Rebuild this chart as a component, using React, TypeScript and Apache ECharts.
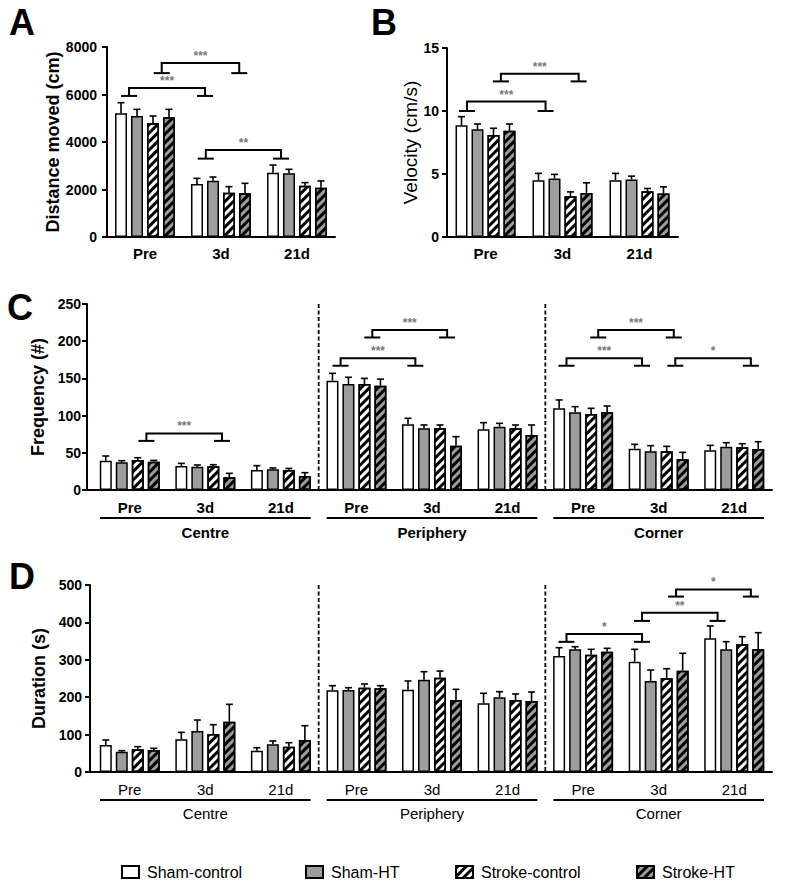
import React, { useEffect, useRef } from 'react';
import * as echarts from 'echarts';

const FONT = "'Liberation Sans', Arial, sans-serif";
const GRAY = '#9d9d9d';

const timepoints = ['Pre', '3d', '21d'];
const zones = ['Centre', 'Periphery', 'Corner'];
const groups = ['Sham-control', 'Sham-HT', 'Stroke-control', 'Stroke-HT'];
const zoneCategories = zones.flatMap((z) => timepoints.map((t) => z + '|' + t));

// Panel A: distance moved (cm); rows = groups, cols = timepoints
const distanceMean = [
  [5210, 2230, 2710],
  [5095, 2370, 2680],
  [4785, 1865, 2160],
  [5040, 1840, 2075],
];
const distanceSem = [
  [445, 240, 320],
  [280, 155, 170],
  [310, 255, 130],
  [335, 420, 285],
];

// Panel B: velocity (cm/s)
const velocityMean = [
  [8.87, 4.51, 4.51],
  [8.55, 4.65, 4.57],
  [8.1, 3.24, 3.64],
  [8.44, 3.5, 3.45],
];
const velocitySem = [
  [0.68, 0.54, 0.54],
  [0.42, 0.32, 0.26],
  [0.53, 0.34, 0.21],
  [0.53, 0.8, 0.53],
];

// Panel C: frequency (#); cols = Centre Pre/3d/21d, Periphery ..., Corner ...
const frequencyMean = [
  [39.4, 32.3, 26.9, 146.9, 88.3, 81.6, 109.8, 55.5, 53.3],
  [37.2, 31.4, 27.8, 142.5, 82.9, 85.1, 104.4, 52, 58.2],
  [40.3, 32, 26.9, 142.5, 82.9, 82.9, 102.2, 52, 57.4],
  [38, 17, 18.8, 140.2, 59.6, 73.9, 104.4, 41.2, 55.1],
];
const frequencySem = [
  [6.3, 3.5, 5.8, 9.9, 8.1, 8.9, 11.2, 5.9, 6.7],
  [2.2, 2.2, 1.8, 9, 4.5, 4.5, 7.6, 7.6, 5.4],
  [3.1, 2, 2.1, 7.5, 4.5, 4.5, 7.6, 6.7, 4.8],
  [1.8, 5.4, 4.5, 8.8, 12.1, 13.5, 8.5, 9.4, 9.8],
];

// Panel D: duration (s)
const durationMean = [
  [72.2, 87.4, 57, 218.4, 220, 183.7, 310.2, 295, 357.5],
  [54.3, 109.6, 74, 219.3, 246.8, 199.7, 328, 243.3, 328],
  [60.6, 101.6, 67.7, 225.4, 252.2, 192.5, 313.6, 250.5, 341.4],
  [58.8, 134.5, 85.6, 223.8, 192.5, 189.8, 321.7, 270.9, 328],
];
const durationSem = [
  [13.4, 18.6, 8, 12.4, 23.3, 26.7, 22.2, 33, 32.9],
  [2.7, 29.4, 8.9, 6.1, 21.4, 15, 7, 29.4, 20.4],
  [7.1, 24.9, 10.6, 9.9, 17.8, 16.1, 14.4, 25.7, 20.4],
  [4.5, 46.5, 38.2, 7, 28.5, 24.1, 9, 46.5, 44.5],
];

// Significance brackets: [category, offset within band], top level, foot level, label
const distanceBrackets = [
  { from: [0, -0.21], to: [1, -0.21], top: 6270, base: 5940, label: '***' },
  { from: [0, 0.22], to: [1, 0.24], top: 7330, base: 6900, label: '***' },
  { from: [1, -0.2], to: [2, -0.21], top: 3660, base: 3300, label: '**' },
];
const velocityBrackets = [
  { from: [0, -0.24], to: [1, -0.22], top: 10.75, base: 10.0, label: '***' },
  { from: [0, 0.2], to: [1, 0.21], top: 12.95, base: 12.35, label: '***' },
];
const frequencyBrackets = [
  { from: [0, 0.22], to: [1, 0.22], top: 76, base: 66, label: '***' },
  { from: [3, -0.21], to: [4, -0.22], top: 177, base: 167, label: '***' },
  { from: [3, 0.21], to: [4, 0.2], top: 215, base: 205, label: '***' },
  { from: [6, -0.22], to: [7, -0.22], top: 177, base: 167, label: '***' },
  { from: [6, 0.2], to: [7, 0.2], top: 215, base: 205, label: '***' },
  { from: [7, 0.22], to: [8, 0.22], top: 177, base: 167, label: '*' },
];
const durationBrackets = [
  { from: [6, -0.22], to: [7, -0.22], top: 369, base: 348, label: '*' },
  { from: [7, -0.22], to: [8, -0.22], top: 426, base: 404, label: '**' },
  { from: [7, 0.23], to: [8, 0.22], top: 488, base: 469, label: '*' },
];

const fills = ['#ffffff', GRAY, '#ffffff', GRAY];
const stripe = {
  symbol: 'rect',
  symbolSize: 1,
  color: '#000',
  dashArrayX: [1, 0],
  dashArrayY: [3, 3],
  rotation: -Math.PI / 4,
};
const BAR_W = 12;
const BAR_STEP = 16;

function barSeries(idx: number, means: number[][]) {
  return groups.map((g, k) => ({
    type: 'bar',
    name: g,
    xAxisIndex: idx,
    yAxisIndex: idx,
    data: means[k],
    barWidth: BAR_W,
    barGap: '33.3%',
    silent: true,
    z: 2,
    itemStyle: {
      color: fills[k],
      borderColor: '#000',
      borderWidth: 1.5,
      decal: k >= 2 ? stripe : null,
    },
  }));
}

function errorSeries(idx: number, means: number[][], sems: number[][]) {
  const items: { k: number; c: number; m: number; t: number }[] = [];
  means.forEach((row, k) => row.forEach((m, c) => items.push({ k, c, m, t: m + sems[k][c] })));
  return {
    type: 'custom',
    xAxisIndex: idx,
    yAxisIndex: idx,
    silent: true,
    z: 5,
    data: items.map((it) => [it.c, it.t]),
    renderItem: (params: any, api: any) => {
      const it = items[params.dataIndex];
      const p = api.coord([it.c, it.m]);
      const q = api.coord([it.c, it.t]);
      const x = p[0] + (it.k - 1.5) * BAR_STEP;
      return {
        type: 'group',
        children: [
          { type: 'line', shape: { x1: x, y1: p[1], x2: x, y2: q[1] }, style: { stroke: '#000', lineWidth: 1.6 } },
          { type: 'line', shape: { x1: x - 3.5, y1: q[1], x2: x + 3.5, y2: q[1] }, style: { stroke: '#000', lineWidth: 1.6 } },
        ],
      };
    },
  };
}

type Bracket = { from: number[]; to: number[]; top: number; base: number; label: string };

function annotationSeries(
  idx: number,
  brackets: Bracket[],
  yMax: number,
  zoneMode: null | { bold: boolean; labelGap: number; axisExt: number }
) {
  const items: any[] = brackets.map((b) => ({ kind: 'bracket', b }));
  if (zoneMode) {
    items.push({ kind: 'sep', c: 2 }, { kind: 'sep', c: 5 });
    zones.forEach((z, i) => items.push({ kind: 'zone', z: i, text: z }));
    items.push({ kind: 'ext' });
  }
  return {
    type: 'custom',
    xAxisIndex: idx,
    yAxisIndex: idx,
    silent: true,
    clip: false,
    z: 6,
    data: items.map(() => [0, 0]),
    renderItem: (params: any, api: any) => {
      const it = items[params.dataIndex];
      const band = api.size([1, 0])[0];
      const base0 = api.coord([0, 0]);
      if (it.kind === 'bracket') {
        const b: Bracket = it.b;
        const x1 = api.coord([b.from[0], b.top])[0] + b.from[1] * band;
        const x2 = api.coord([b.to[0], b.top])[0] + b.to[1] * band;
        const yt = api.coord([b.from[0], b.top])[1];
        const yb = api.coord([b.from[0], b.base])[1];
        const ls = { stroke: '#000', lineWidth: 2, fill: null };
        return {
          type: 'group',
          children: [
            { type: 'polyline', shape: { points: [[x1, yb], [x1, yt], [x2, yt], [x2, yb]] }, style: ls },
            { type: 'line', shape: { x1: x1 - 8, y1: yb, x2: x1 + 8, y2: yb }, style: ls },
            { type: 'line', shape: { x1: x2 - 8, y1: yb, x2: x2 + 8, y2: yb }, style: ls },
            {
              type: 'text',
              x: (x1 + x2) / 2,
              y: yt - 7,
              style: {
                text: b.label,
                fill: '#7a7a7a',
                font: `bold 12px ${FONT}`,
                align: 'center',
                verticalAlign: 'middle',
              },
            },
          ],
        };
      }
      if (it.kind === 'sep') {
        const x = api.coord([it.c, 0])[0] + band / 2;
        const y0 = base0[1];
        const y1 = api.coord([0, yMax])[1];
        return {
          type: 'line',
          shape: { x1: x, y1: y1, x2: x, y2: y0 },
          style: { stroke: '#000', lineWidth: 1.8, lineDash: [4, 2.5] },
        };
      }
      if (it.kind === 'zone') {
        const xs = api.coord([it.z * 3, 0])[0] - band / 2 + 8;
        const xe = api.coord([it.z * 3 + 2, 0])[0] + band / 2 - 8;
        const y = base0[1];
        return {
          type: 'group',
          children: [
            { type: 'line', shape: { x1: xs, y1: y + 28, x2: xe, y2: y + 28 }, style: { stroke: '#000', lineWidth: 2 } },
            {
              type: 'text',
              x: (xs + xe) / 2,
              y: y + zoneMode!.labelGap,
              style: {
                text: it.text,
                fill: '#000',
                font: `${zoneMode!.bold ? 'bold ' : ''}15px ${FONT}`,
                align: 'center',
                verticalAlign: 'middle',
              },
            },
          ],
        };
      }
      // extend x axis line to meet y axis
      const xl = base0[0] - band / 2;
      return {
        type: 'line',
        shape: { x1: xl - zoneMode!.axisExt, y1: base0[1], x2: xl + 1, y2: base0[1] },
        style: { stroke: '#000', lineWidth: 2 },
      };
    },
  };
}

function xAxisCfg(idx: number, data: string[], bold: boolean, margin: number, zoned: boolean) {
  return {
    type: 'category',
    gridIndex: idx,
    data,
    axisLine: { show: true, lineStyle: { color: '#000', width: 2 } },
    axisTick: { show: false },
    splitLine: { show: false },
    axisLabel: {
      interval: 0,
      color: '#000',
      fontWeight: bold ? 'bold' : 'normal',
      fontSize: 15,
      fontFamily: FONT,
      margin,
      formatter: zoned ? (v: string) => v.split('|')[1] : undefined,
    },
  };
}

function yAxisCfg(
  idx: number,
  name: string,
  nameBold: boolean,
  nameSize: number,
  max: number,
  interval: number,
  nameGap: number,
  labelMargin: number,
  offset: number
) {
  return {
    type: 'value',
    gridIndex: idx,
    min: 0,
    max,
    interval,
    offset,
    name,
    nameLocation: 'middle',
    nameGap,
    nameTextStyle: {
      color: '#000',
      fontWeight: nameBold ? 'bold' : 'normal',
      fontSize: nameSize,
      fontFamily: FONT,
    },
    axisLine: { show: true, lineStyle: { color: '#000', width: 2 } },
    axisTick: { show: true, length: 5, lineStyle: { color: '#000', width: 2 } },
    splitLine: { show: false },
    axisLabel: {
      color: '#000',
      fontWeight: 'bold',
      fontSize: 14,
      fontFamily: FONT,
      margin: labelMargin,
      formatter: (v: number) => String(v),
    },
  };
}

const legendLeft = [116, 300, 450, 631];

export default function App() {
  const ref = useRef<HTMLDivElement>(null);
  useEffect(() => {
    if (!ref.current) return;
    const chart = echarts.init(ref.current, undefined, { renderer: 'svg' });
    const option: any = {
      animation: false,
      backgroundColor: '#ffffff',
      textStyle: { fontFamily: FONT },
      grid: [
        { left: 107, top: 47, width: 228, height: 190 },
        { left: 447, top: 48, width: 231, height: 189 },
        { left: 92, top: 304, width: 680, height: 186 },
        { left: 92, top: 585, width: 680, height: 187 },
      ],
      xAxis: [
        xAxisCfg(0, timepoints, true, 9, false),
        xAxisCfg(1, timepoints, true, 9, false),
        xAxisCfg(2, zoneCategories, true, 10, true),
        xAxisCfg(3, zoneCategories, false, 10, true),
      ],
      yAxis: [
        yAxisCfg(0, 'Distance moved (cm)', true, 18, 8000, 2000, 43, 10, 0),
        yAxisCfg(1, 'Velocity (cm/s)', false, 19, 15, 5, 25, 8, 0),
        yAxisCfg(2, 'Frequency (#)', true, 18, 250, 50, 30, 6, 5),
        yAxisCfg(3, 'Duration (s)', true, 18, 500, 100, 33, 8, 2),
      ],
      legend: groups.map((g, i) => ({
        data: [g],
        left: legendLeft[i],
        top: 859,
        icon: 'rect',
        itemWidth: 17,
        itemHeight: 12,
        selectedMode: false,
        textStyle: { color: '#000', fontSize: 16, fontFamily: FONT, padding: [0, 0, 0, 3] },
      })),
      graphic: [
        { type: 'text', left: 9, top: 4, style: { text: 'A', font: `bold 36px ${FONT}`, fill: '#000' } },
        { type: 'text', left: 371, top: 4, style: { text: 'B', font: `bold 36px ${FONT}`, fill: '#000' } },
        { type: 'text', left: 7, top: 289, style: { text: 'C', font: `bold 36px ${FONT}`, fill: '#000' } },
        { type: 'text', left: 9, top: 558, style: { text: 'D', font: `bold 36px ${FONT}`, fill: '#000' } },
      ],
      series: [
        ...barSeries(0, distanceMean),
        errorSeries(0, distanceMean, distanceSem),
        annotationSeries(0, distanceBrackets, 8000, null),
        ...barSeries(1, velocityMean),
        errorSeries(1, velocityMean, velocitySem),
        annotationSeries(1, velocityBrackets, 15, null),
        ...barSeries(2, frequencyMean),
        errorSeries(2, frequencyMean, frequencySem),
        annotationSeries(2, frequencyBrackets, 250, { bold: true, labelGap: 42, axisExt: 5 }),
        ...barSeries(3, durationMean),
        errorSeries(3, durationMean, durationSem),
        annotationSeries(3, durationBrackets, 500, { bold: false, labelGap: 41, axisExt: 2 }),
      ],
    };
    chart.setOption(option);
    return () => chart.dispose();
  }, []);
  return (
    <div
      ref={ref}
      style={{ position: 'fixed', left: 0, top: 0, width: 785, height: 881, background: '#fff' }}
    />
  );
}
